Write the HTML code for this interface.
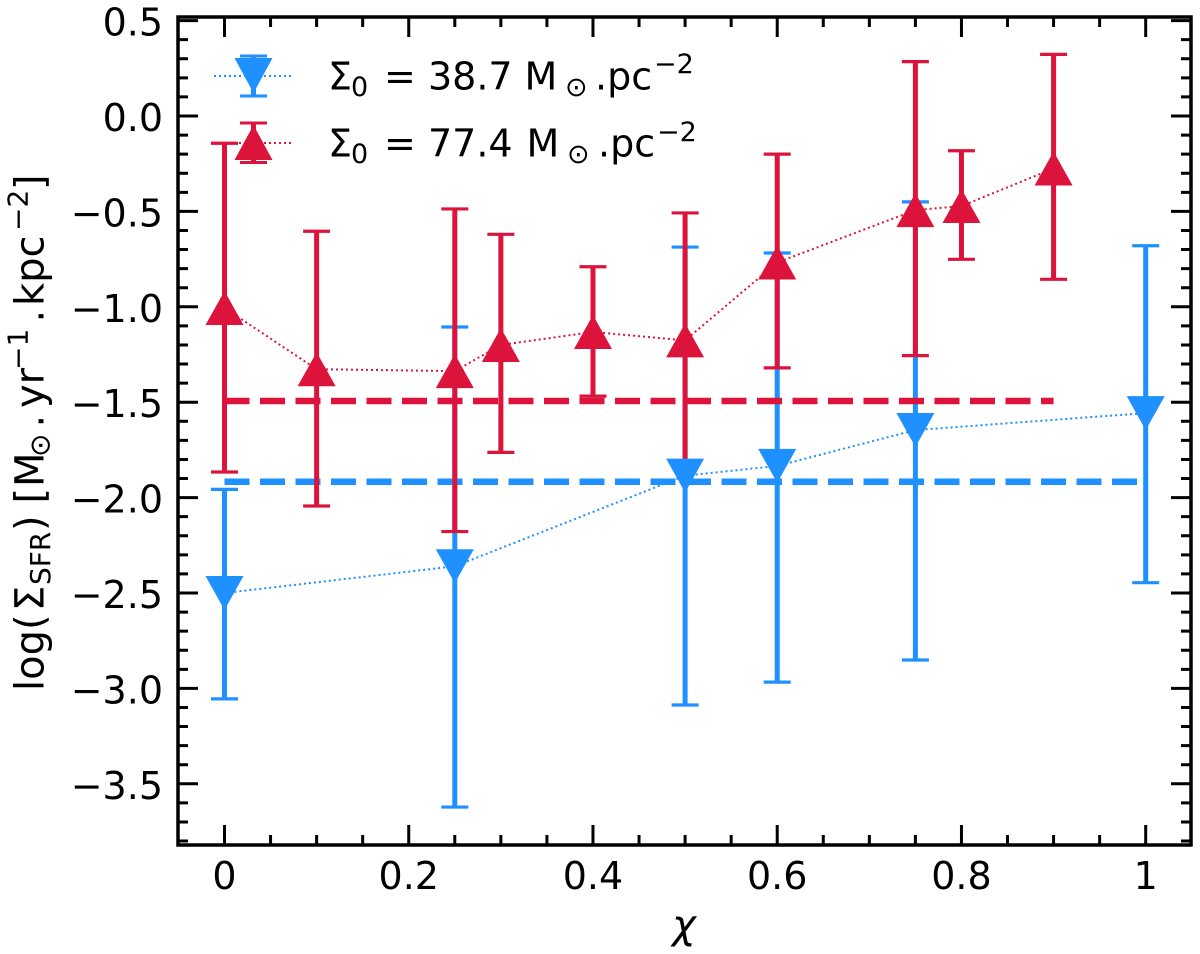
<!DOCTYPE html>
<html lang="en">
<head>
<meta charset="utf-8">
<title>Star formation rate surface density versus chi</title>
<style>
html,body{margin:0;padding:0;background:#fff;}
svg{display:block;}
text{font-family:"DejaVu Sans","Liberation Sans",sans-serif;fill:#000;}
</style>
</head>
<body>
<svg id="chart" xmlns="http://www.w3.org/2000/svg" width="1200" height="954" viewBox="0 0 1200 954">
  <rect x="0" y="0" width="1200" height="954" fill="#ffffff"/>
  <g id="blue-under"></g>
  <g id="red-under"></g>
  <g id="red-markers"></g>
  <g id="blue-markers"></g>
  <g id="ticks"></g>
  <g id="tick-labels" font-size="38"></g>
  <rect x="178" y="17" width="1013" height="828" fill="none" stroke="#000" stroke-width="3.5"/>

  <text x="684" y="938" font-size="40" font-style="italic" text-anchor="middle">χ</text>

  <text transform="translate(43.5,0) rotate(-90)" font-size="40" y="0"><tspan x="-691">log(</tspan><tspan x="-611">Σ</tspan><tspan x="-585" y="6.5" font-size="28">SFR</tspan><tspan x="-531" y="0">)</tspan><tspan x="-503.5">[</tspan><tspan x="-487">M</tspan><tspan x="-457" y="6" font-size="28">⊙</tspan><tspan x="-427.5" y="0">.</tspan><tspan x="-408">yr</tspan><tspan x="-370" y="-16" font-size="28">−1</tspan><tspan x="-322.5" y="0">.</tspan><tspan x="-306">kpc</tspan><tspan x="-231" y="-16" font-size="28">−2</tspan><tspan x="-190" y="0">]</tspan></text>

  <g>
    <g>
      <line x1="214" y1="76" x2="294" y2="76" stroke="#1E90FF" stroke-width="2" stroke-dasharray="2 3"/>
      <line x1="253.5" y1="55" x2="253.5" y2="96" stroke="#1E90FF" stroke-width="5"/>
      <line x1="240" y1="56" x2="267" y2="56" stroke="#1E90FF" stroke-width="3"/>
      <line x1="240" y1="96" x2="267" y2="96" stroke="#1E90FF" stroke-width="3"/>
      <polygon points="234.5,58 272.5,58 253.5,93" fill="#1E90FF"/>
      <text font-size="38" y="89.5"><tspan x="328">Σ</tspan><tspan x="351" y="96" font-size="27">0</tspan><tspan x="384" y="89.5">=</tspan><tspan x="428">38.7</tspan><tspan x="524.5">M</tspan><tspan x="565" y="96" font-size="27">⊙</tspan><tspan x="595" y="89.5">.pc</tspan><tspan x="654" y="73" font-size="27">−2</tspan></text>
    </g>
    <g>
      <line x1="214" y1="143" x2="294" y2="143" stroke="#DC143C" stroke-width="2" stroke-dasharray="2 3"/>
      <line x1="253.5" y1="123" x2="253.5" y2="163" stroke="#DC143C" stroke-width="5"/>
      <line x1="240" y1="123" x2="267" y2="123" stroke="#DC143C" stroke-width="3"/>
      <line x1="240" y1="162.5" x2="267" y2="162.5" stroke="#DC143C" stroke-width="3"/>
      <polygon points="234.5,160 272.5,160 253.5,125" fill="#DC143C"/>
      <text font-size="38" y="156.5"><tspan x="328">Σ</tspan><tspan x="351" y="163" font-size="27">0</tspan><tspan x="384" y="156.5">=</tspan><tspan x="428">77.4</tspan><tspan x="526.5">M</tspan><tspan x="567" y="163" font-size="27">⊙</tspan><tspan x="598" y="156.5">.pc</tspan><tspan x="657" y="141" font-size="27">−2</tspan></text>
    </g>
  </g>
</svg>
<script>
var chiBlue = [0, 0.25, 0.5, 0.6, 0.75, 1];
var logSfrBlue = [-2.5, -2.36, -1.885, -1.834, -1.646, -1.557];
var upperBlue = [-1.957, -1.106, -0.687, -0.718, -0.45, -0.68];
var lowerBlue = [-3.055, -3.622, -3.087, -2.967, -2.851, -2.446];
var meanBlue = [-1.917];
var meanSpanBlue = [0, 1];

var chiRed = [0, 0.1, 0.25, 0.3, 0.4, 0.5, 0.6, 0.75, 0.8, 0.9];
var logSfrRed = [-1.006, -1.327, -1.337, -1.2, -1.132, -1.176, -0.768, -0.493, -0.472, -0.275];
var upperRed = [-0.143, -0.604, -0.487, -0.62, -0.79, -0.508, -0.2, 0.285, -0.182, 0.323];
var lowerRed = [-1.866, -2.044, -2.178, -1.763, -1.468, -1.83, -1.32, -1.256, -0.751, -0.856];
var meanRed = [-1.494];
var meanSpanRed = [0, 0.9];

var xMajorTicks = [0, 0.2, 0.4, 0.6, 0.8, 1];
var xTickLabels = ["0", "0.2", "0.4", "0.6", "0.8", "1"];
var xMinorTicks = [0.05, 0.1, 0.15, 0.25, 0.3, 0.35, 0.45, 0.5, 0.55, 0.65, 0.7, 0.75, 0.85, 0.9, 0.95];
var yMajorTicks = [0.5, 0, -0.5, -1, -1.5, -2, -2.5, -3, -3.5];
var yTickLabels = ["0.5", "0.0", "−0.5", "−1.0", "−1.5", "−2.0", "−2.5", "−3.0", "−3.5"];
var yMinorTicks = [0.4, 0.3, 0.2, 0.1, -0.1, -0.2, -0.3, -0.4, -0.6, -0.7, -0.8, -0.9, -1.1, -1.2, -1.3, -1.4, -1.6, -1.7, -1.8, -1.9, -2.1, -2.2, -2.3, -2.4, -2.6, -2.7, -2.8, -2.9, -3.1, -3.2, -3.3, -3.4, -3.6, -3.7, -3.8];

var BLUE = "#1E90FF";
var RED = "#DC143C";
var SVGNS = "http://www.w3.org/2000/svg";

function xScale(v) { return 224.5 + v * 921.2; }
function yScale(v) { return 116 - v * 190.8; }

function mk(tag, attrs, parent) {
  var el = document.createElementNS(SVGNS, tag);
  for (var k in attrs) { el.setAttribute(k, attrs[k]); }
  parent.appendChild(el);
  return el;
}

function drawErrorBars(chi, upper, lower, color, parent) {
  for (var i = 0; i < chi.length; i++) {
    var x = xScale(chi[i]);
    var bar = mk("line", {x1: x, x2: x, y1: yScale(upper[i]), y2: yScale(lower[i]), stroke: color, "stroke-width": 5}, parent);
    
    
    var capTop = mk("line", {x1: x - 13.5, x2: x + 13.5, y1: yScale(upper[i]), y2: yScale(upper[i]), stroke: color, "stroke-width": 3.2}, parent);
    
    
    var capBottom = mk("line", {x1: x - 13.5, x2: x + 13.5, y1: yScale(lower[i]), y2: yScale(lower[i]), stroke: color, "stroke-width": 3.2}, parent);
    
    
  }
}

function drawMean(level, span, color, parent) {
  var mean = mk("line", {x1: xScale(span[0]), x2: xScale(span[1]), y1: yScale(level[0]), y2: yScale(level[0]), stroke: color, "stroke-width": 6.5, "stroke-dasharray": "25 10.5"}, parent);
  
  
}

function drawDotted(chi, vals, color, parent) {
  var pts = [];
  for (var i = 0; i < chi.length; i++) { pts.push(xScale(chi[i]) + "," + yScale(vals[i])); }
  var line = mk("polyline", {points: pts.join(" "), fill: "none", stroke: color, "stroke-width": 2, "stroke-dasharray": "2 3"}, parent);
  
  
}

function drawMarkers(chi, vals, color, dir, parent) {
  for (var i = 0; i < chi.length; i++) {
    var x = xScale(chi[i]);
    var y = yScale(vals[i]);
    var pts = (x - 19) + "," + (y - dir * 17) + " " + (x + 19) + "," + (y - dir * 17) + " " + x + "," + (y + dir * 17);
    var tri = mk("polygon", {points: pts, fill: color}, parent);
    
    
  }
}

function drawTicks(parent, labels) {
  var i, x, y, t;
  for (i = 0; i < xMajorTicks.length; i++) {
    x = xScale(xMajorTicks[i]);
    t = mk("path", {d: "M" + x + " 845V825M" + x + " 17V37", stroke: "#000", "stroke-width": 3, fill: "none"}, parent);
    
    
    t = mk("text", {x: x, y: 889, "text-anchor": "middle"}, labels);
    t.textContent = xTickLabels[i];
    
    
  }
  for (i = 0; i < xMinorTicks.length; i++) {
    x = xScale(xMinorTicks[i]);
    t = mk("path", {d: "M" + x + " 845V835M" + x + " 17V27", stroke: "#000", "stroke-width": 3, fill: "none"}, parent);
    
    
  }
  for (i = 0; i < yMajorTicks.length; i++) {
    y = yScale(yMajorTicks[i]);
    t = mk("path", {d: "M178 " + y + "H198M1191 " + y + "H1171", stroke: "#000", "stroke-width": 3, fill: "none"}, parent);
    
    
    t = mk("text", {x: 163, y: y + 15, "text-anchor": "end"}, labels);
    t.textContent = yTickLabels[i];
    
    
  }
  for (i = 0; i < yMinorTicks.length; i++) {
    y = yScale(yMinorTicks[i]);
    t = mk("path", {d: "M178 " + y + "H188M1191 " + y + "H1181", stroke: "#000", "stroke-width": 3, fill: "none"}, parent);
    
    
  }
}

var blueUnder = document.getElementById("blue-under");
var redUnder = document.getElementById("red-under");
var redMarkers = document.getElementById("red-markers");
var blueMarkers = document.getElementById("blue-markers");

drawMean(meanBlue, meanSpanBlue, BLUE, blueUnder);
drawDotted(chiBlue, logSfrBlue, BLUE, blueUnder);
drawErrorBars(chiBlue, upperBlue, lowerBlue, BLUE, blueUnder);
drawDotted(chiRed, logSfrRed, RED, redUnder);
drawErrorBars(chiRed, upperRed, lowerRed, RED, redUnder);
drawMean(meanRed, meanSpanRed, RED, redUnder);
drawMarkers(chiRed, logSfrRed, RED, -1, redMarkers);
drawMarkers(chiBlue, logSfrBlue, BLUE, 1, blueMarkers);
drawTicks(document.getElementById("ticks"), document.getElementById("tick-labels"));
</script>
</body>
</html>
